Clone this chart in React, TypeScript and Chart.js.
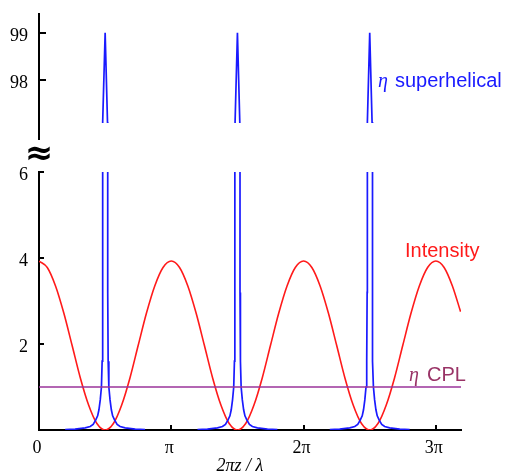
import React, { useEffect, useRef } from 'react';
import { Chart, registerables } from 'chart.js';
Chart.register(...registerables);

// x values are in units of π
const X_MAX = 3.19;
const xTickValues = [0, 1, 2, 3];
const xTickLabels = ['0', 'π', '2π', '3π'];
const lowerYTicks = [2, 4, 6];
const upperYTicks = [98, 99];

const intensityX = [
  0, 0.0625, 0.125, 0.1875, 0.25, 0.3125, 0.375, 0.4375, 0.5, 0.5625, 0.625, 0.6875, 0.75, 0.8125, 0.875, 0.9375,
  1, 1.0625, 1.125, 1.1875, 1.25, 1.3125, 1.375, 1.4375, 1.5, 1.5625, 1.625, 1.6875, 1.75, 1.8125, 1.875, 1.9375,
  2, 2.0625, 2.125, 2.1875, 2.25, 2.3125, 2.375, 2.4375, 2.5, 2.5625, 2.625, 2.6875, 2.75, 2.8125, 2.875, 2.9375,
  3, 3.0625, 3.125, 3.187,
];
const intensityY = [
  3.93, 3.78, 3.35, 2.72, 1.97, 1.21, 0.58, 0.15, 0, 0.15, 0.58, 1.21, 1.97, 2.72, 3.35, 3.78,
  3.93, 3.78, 3.35, 2.72, 1.97, 1.21, 0.58, 0.15, 0, 0.15, 0.58, 1.21, 1.97, 2.72, 3.35, 3.78,
  3.93, 3.78, 3.35, 2.72, 1.97, 1.21, 0.58, 0.15, 0, 0.15, 0.58, 1.21, 1.97, 2.72, 3.35, 3.78,
  3.93, 3.78, 3.35, 2.75,
];

// η superhelical: three identical resonances
const spikeCenters = [0.5, 1.5, 2.5];
const spikeOffsets = [
  -0.302, -0.227, -0.151, -0.113, -0.0907, -0.0718, -0.0567, -0.0469, -0.037, -0.028, -0.0227, -0.0195, -0.0178,
  0,
  0.0178, 0.0195, 0.0227, 0.028, 0.037, 0.0469, 0.0567, 0.0718, 0.0907, 0.113, 0.151, 0.227, 0.302,
];
const spikeValues = [
  0.01, 0.02, 0.05, 0.08, 0.13, 0.23, 0.33, 0.47, 0.7, 1.0, 1.6, 3.2, 97.1,
  99,
  97.1, 3.2, 1.6, 1.0, 0.7, 0.47, 0.33, 0.23, 0.13, 0.08, 0.05, 0.02, 0.01,
];

const cplX = [0, 3.19];
const cplY = [1, 1];

const BLUE = '#1a1aff';
const RED = '#ff1a1a';
const PURPLE = '#9a339a';
const PURPLE_TEXT = '#993366';
const SERIF = "'Liberation Serif', 'Times New Roman', serif";
const SANS = "'Liberation Sans', Arial, sans-serif";

function buildDatasets() {
  const blue: any[] = [];
  spikeCenters.forEach((c) => {
    spikeOffsets.forEach((o, i) => blue.push({ x: c + o, y: spikeValues[i] }));
    blue.push({ x: c + 0.35, y: null });
  });
  return [
    {
      label: 'η CPL',
      data: cplX.map((x, i) => ({ x, y: cplY[i] })),
      borderColor: PURPLE,
      borderWidth: 1.6,
      pointRadius: 0,
    },
    {
      label: 'η superhelical',
      data: blue,
      borderColor: BLUE,
      borderWidth: 1.7,
      pointRadius: 0,
      spanGaps: false,
      tension: 0,
    },
    {
      label: 'Intensity',
      data: intensityX.map((x, i) => ({ x, y: intensityY[i] })),
      borderColor: RED,
      borderWidth: 1.6,
      pointRadius: 0,
      cubicInterpolationMode: 'monotone',
    },
  ];
}

const xScale = (display: boolean) => ({
  type: 'linear',
  display,
  min: 0,
  max: X_MAX,
  afterBuildTicks: (s: any) => {
    s.ticks = xTickValues.map((v) => ({ value: v }));
  },
  afterFit: (s: any) => {
    s.height = display ? 45 : 0;
  },
  grid: { display: false, drawTicks: false },
  border: { display: true, color: '#000', width: 2 },
  ticks: {
    color: '#000',
    padding: 7,
    maxRotation: 0,
    labelOffset: -2,
    font: { family: SERIF, size: 18 },
    callback: (v: any) => {
      const i = xTickValues.indexOf(v);
      return i >= 0 ? xTickLabels[i] : '';
    },
  },
});

const yScale = (min: number, max: number, ticks: number[]) => ({
  type: 'linear',
  min,
  max,
  afterBuildTicks: (s: any) => {
    s.ticks = ticks.map((v) => ({ value: v }));
  },
  afterFit: (s: any) => {
    s.width = 39;
    s.paddingTop = 0;
    s.paddingBottom = 0;
  },
  grid: { display: false, drawTicks: false },
  border: { display: true, color: '#000', width: 2 },
  ticks: {
    color: '#000',
    padding: 11,
    labelOffset: 3,
    font: { family: SERIF, size: 18 },
    callback: (v: any) => String(v),
  },
});

const lowerDecor = {
  id: 'lowerDecor',
  afterDraw(chart: any) {
    const ctx = chart.ctx;
    const { left, bottom } = chart.chartArea;
    const xs = chart.scales.x;
    const ys = chart.scales.y;
    ctx.save();
    ctx.strokeStyle = '#000';
    ctx.lineWidth = 2;
    lowerYTicks.forEach((v) => {
      const py = Math.round(ys.getPixelForValue(v));
      ctx.beginPath();
      ctx.moveTo(left, py);
      ctx.lineTo(left + 5, py);
      ctx.stroke();
    });
    xTickValues.slice(1).forEach((v) => {
      const px = Math.round(xs.getPixelForValue(v));
      ctx.beginPath();
      ctx.moveTo(px, bottom);
      ctx.lineTo(px, bottom - 5);
      ctx.stroke();
    });

    // axis-break symbol
    ctx.fillStyle = '#000';
    ctx.textAlign = 'center';
    ctx.textBaseline = 'middle';
    ctx.font = "bold 34px 'DejaVu Sans'";
    ctx.fillText('≈', 39, 155);

    ctx.textAlign = 'left';
    ctx.textBaseline = 'alphabetic';
    // η superhelical
    ctx.fillStyle = BLUE;
    ctx.font = `italic 20px ${SERIF}`;
    ctx.fillText('η', 378, 87);
    ctx.font = `20px ${SANS}`;
    ctx.fillText('superhelical', 395, 87);
    // Intensity
    ctx.fillStyle = RED;
    ctx.fillText('Intensity', 405, 257);
    // η CPL
    ctx.fillStyle = PURPLE_TEXT;
    ctx.font = `italic 20px ${SERIF}`;
    ctx.fillText('η', 409, 381);
    ctx.font = `20px ${SANS}`;
    ctx.fillText('CPL', 427, 381);

    // x-axis title
    ctx.fillStyle = '#000';
    ctx.textAlign = 'center';
    ctx.font = `italic 18px ${SERIF}`;
    ctx.fillText('2πz / λ', 240, 471);
    ctx.restore();
  },
};

const upperDecor = {
  id: 'upperDecor',
  afterDraw(chart: any) {
    const ctx = chart.ctx;
    const { left, bottom } = chart.chartArea;
    const ys = chart.scales.y;
    ctx.save();
    ctx.strokeStyle = '#000';
    ctx.lineWidth = 2;
    upperYTicks.forEach((v) => {
      const py = Math.round(ys.getPixelForValue(v));
      ctx.beginPath();
      ctx.moveTo(left, py);
      ctx.lineTo(left + 7, py);
      ctx.stroke();
    });
    ctx.beginPath();
    ctx.moveTo(left, bottom);
    ctx.lineTo(left, bottom + 17);
    ctx.stroke();
    ctx.restore();
  },
};

export default function App() {
  const lowerRef = useRef<HTMLCanvasElement>(null);
  const upperRef = useRef<HTMLCanvasElement>(null);

  useEffect(() => {
    const lower = new Chart(lowerRef.current as HTMLCanvasElement, {
      type: 'line',
      data: { datasets: buildDatasets() as any },
      options: {
        responsive: false,
        animation: false,
        events: [],
        layout: { padding: { top: 172, right: 50, left: 0, bottom: 0 } },
        plugins: { legend: { display: false }, tooltip: { enabled: false } },
        scales: { x: xScale(true) as any, y: yScale(0, 6, lowerYTicks) as any },
      },
      plugins: [lowerDecor],
    });
    const upper = new Chart(upperRef.current as HTMLCanvasElement, {
      type: 'line',
      data: { datasets: buildDatasets() as any },
      options: {
        responsive: false,
        animation: false,
        events: [],
        layout: { padding: { top: 14, right: 50, left: 0, bottom: 352 } },
        plugins: { legend: { display: false }, tooltip: { enabled: false } },
        scales: { x: xScale(false) as any, y: yScale(97.08, 99.4, upperYTicks) as any },
      },
      plugins: [upperDecor],
    });
    return () => {
      lower.destroy();
      upper.destroy();
    };
  }, []);

  const canvasStyle: React.CSSProperties = {
    position: 'absolute',
    left: 0,
    top: 0,
    width: 511,
    height: 475,
    display: 'block',
  };

  return (
    <div style={{ position: 'fixed', left: 0, top: 0, width: 511, height: 475, background: '#fff' }}>
      <canvas ref={lowerRef} width={511} height={475} style={canvasStyle} />
      <canvas ref={upperRef} width={511} height={475} style={{ ...canvasStyle, pointerEvents: 'none' }} />
    </div>
  );
}
